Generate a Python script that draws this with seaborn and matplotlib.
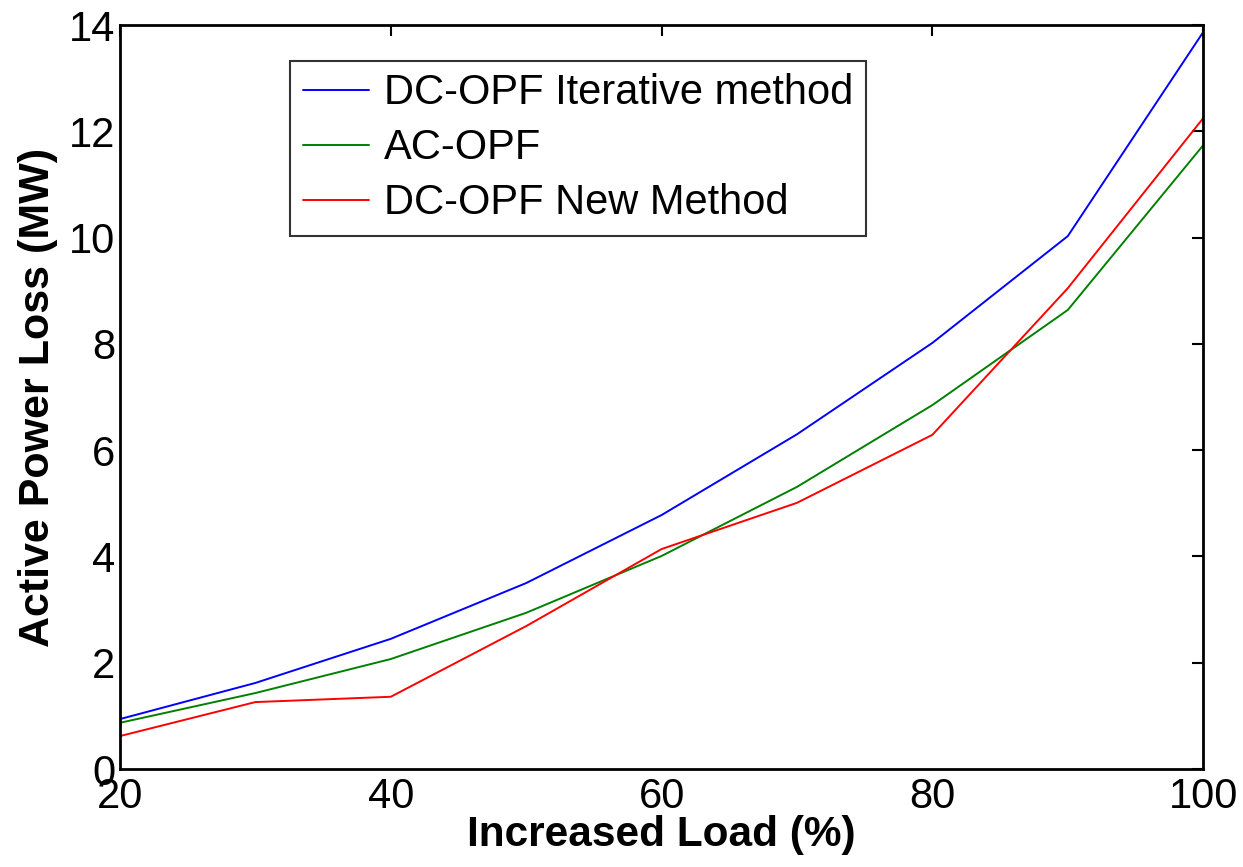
import numpy as np
import pandas as pd
import matplotlib
matplotlib.use("Agg")
import matplotlib.pyplot as plt
import seaborn as sns

load = [20, 30, 40, 50, 60, 70, 80, 90, 100]
dc_iterative = [0.94, 1.62, 2.45, 3.50, 4.78, 6.30, 8.02, 10.03, 13.87]
ac_opf = [0.87, 1.43, 2.07, 2.94, 4.01, 5.31, 6.85, 8.64, 11.74]
dc_new = [0.62, 1.26, 1.36, 2.69, 4.14, 5.01, 6.29, 9.05, 12.25]
names = ["DC-OPF Iterative method", "AC-OPF", "DC-OPF New Method"]

df = pd.DataFrame({
    "load": load * 3,
    "loss": dc_iterative + ac_opf + dc_new,
    "method": [names[0]] * 9 + [names[1]] * 9 + [names[2]] * 9,
})

sns.set_style("white")
plt.rcParams['font.family'] = ['Liberation Sans', 'DejaVu Sans']
plt.rcParams['text.color'] = 'black'

fig = plt.figure(figsize=(12.43, 8.67), dpi=100)
ax = fig.add_axes([0.0965, 0.113, 0.8715, 0.858])
palette = {names[0]: "#0000ff", names[1]: "#008000", names[2]: "#ff0000"}
sns.lineplot(data=df, x="load", y="loss", hue="method", hue_order=names,
             palette=palette, linewidth=1.4, ax=ax)

ax.set_xlim(20, 100)
ax.set_ylim(0, 14)
ax.set_xticks([20, 40, 60, 80, 100])
ax.set_yticks(range(0, 15, 2))
ax.tick_params(direction="in", length=8, width=1.5, labelsize=30, top=True, right=True,
               colors="black")
ax.tick_params(axis="x", pad=6)
for s in ax.spines.values():
    s.set_linewidth(2)
    s.set_color("black")
ax.set_xlabel("Increased Load (%)", fontsize=30.5, fontweight="bold", labelpad=-2,
              color="black")
ax.set_ylabel("Active Power Loss (MW)", fontsize=31, fontweight="bold", labelpad=8,
              color="black")

leg = ax.legend(loc="upper left", bbox_to_anchor=(0.157, 0.952), fontsize=30,
                frameon=True, fancybox=False, edgecolor="black", handlelength=1.6,
                handletextpad=0.35, borderpad=0.3, labelspacing=0.36, borderaxespad=0)
leg.get_frame().set_linewidth(1.5)
for t in leg.get_texts():
    t.set_color("black")
for line in leg.get_lines():
    line.set_linewidth(1.4)

fig.savefig("out.png", dpi=100)
